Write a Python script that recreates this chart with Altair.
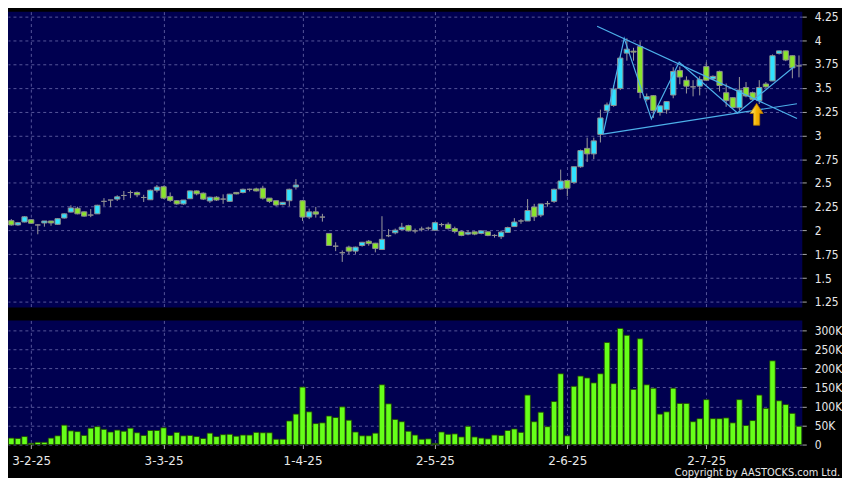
import altair as alt
import pandas as pd

# ---------------- data ----------------
OPEN = [2.103, 2.058, 2.089, 2.113, 2.058, 2.079, 2.100, 2.065, 2.131, 2.193,
        2.234, 2.196, 2.162, 2.175, 2.306, 2.320, 2.330, 2.368, 2.399, 2.400,
        2.347, 2.323, 2.423, 2.460, 2.358, 2.313, 2.279, 2.334, 2.416, 2.392,
        2.310, 2.350, 2.330, 2.306, 2.400, 2.399, 2.433, 2.437, 2.444, 2.340,
        2.313, 2.272, 2.313, 2.457, 2.313, 2.141, 2.196, 2.141, 1.969, 1.835,
        1.766, 1.825, 1.783, 1.842, 1.887, 1.866, 1.800, 1.945, 1.976, 2.010,
        2.051, 1.996, 2.014, 2.024, 2.003, 2.062, 2.065, 2.020, 1.990, 1.962,
        1.986, 1.969, 1.986, 1.948, 1.935, 1.980, 2.041, 2.100, 2.100, 2.247,
        2.162, 2.282, 2.306, 2.437, 2.526, 2.506, 2.670, 2.863, 2.805, 3.010,
        3.259, 3.314, 3.493, 3.864, 3.885, 3.933, 3.379, 3.417, 3.241, 3.269,
        3.424, 3.682, 3.579, 3.510, 3.517, 3.723, 3.593, 3.672, 3.448, 3.396,
        3.290, 3.503, 3.448, 3.365, 3.540, 3.572, 3.861, 3.888, 3.837, 3.730]
HIGH = [2.120, 2.090, 2.150, 2.120, 2.065, 2.100, 2.100, 2.130, 2.180, 2.265,
        2.250, 2.200, 2.225, 2.270, 2.340, 2.320, 2.370, 2.415, 2.420, 2.410,
        2.375, 2.430, 2.478, 2.470, 2.400, 2.320, 2.320, 2.420, 2.420, 2.400,
        2.355, 2.360, 2.380, 2.385, 2.405, 2.440, 2.440, 2.450, 2.470, 2.340,
        2.315, 2.300, 2.440, 2.540, 2.320, 2.230, 2.248, 2.175, 1.970, 1.876,
        1.790, 1.840, 1.830, 1.880, 1.900, 1.870, 2.150, 2.015, 2.020, 2.080,
        2.060, 2.020, 2.040, 2.040, 2.090, 2.080, 2.085, 2.040, 2.000, 2.000,
        1.990, 2.000, 1.990, 1.960, 2.000, 2.040, 2.130, 2.120, 2.330, 2.280,
        2.280, 2.310, 2.440, 2.640, 2.530, 2.670, 2.850, 2.976, 2.976, 3.270,
        3.345, 3.527, 3.836, 4.020, 3.920, 3.985, 3.440, 3.424, 3.310, 3.360,
        3.716, 3.723, 3.620, 3.580, 3.620, 3.768, 3.630, 3.680, 3.545, 3.400,
        3.613, 3.560, 3.460, 3.580, 3.560, 3.850, 3.890, 3.890, 3.840, 3.840]
LOW = [2.050, 2.050, 2.085, 2.070, 1.960, 2.040, 2.050, 2.060, 2.125, 2.190,
       2.170, 2.145, 2.140, 2.175, 2.255, 2.245, 2.310, 2.320, 2.340, 2.350,
       2.300, 2.320, 2.400, 2.330, 2.300, 2.270, 2.270, 2.334, 2.370, 2.320,
       2.290, 2.310, 2.280, 2.300, 2.380, 2.390, 2.410, 2.410, 2.325, 2.290,
       2.255, 2.265, 2.255, 2.430, 2.100, 2.120, 2.135, 2.093, 1.840, 1.783,
       1.670, 1.750, 1.755, 1.830, 1.840, 1.770, 1.800, 1.930, 1.960, 2.000,
       1.990, 1.970, 1.990, 2.000, 1.995, 2.040, 2.010, 1.970, 1.940, 1.950,
       1.950, 1.960, 1.940, 1.925, 1.910, 1.975, 2.040, 2.070, 2.100, 2.100,
       2.140, 2.250, 2.290, 2.430, 2.360, 2.490, 2.660, 2.720, 2.750, 2.925,
       3.235, 3.300, 3.476, 3.785, 3.785, 3.390, 3.355, 3.183, 3.207, 3.228,
       3.390, 3.537, 3.440, 3.410, 3.420, 3.570, 3.580, 3.460, 3.300, 3.280,
       3.260, 3.400, 3.360, 3.330, 3.500, 3.570, 3.850, 3.780, 3.600, 3.610]
CLOSE = [2.058, 2.082, 2.144, 2.076, 2.058, 2.100, 2.079, 2.124, 2.175, 2.237,
         2.175, 2.151, 2.162, 2.265, 2.306, 2.320, 2.354, 2.368, 2.399, 2.375,
         2.347, 2.423, 2.457, 2.340, 2.316, 2.279, 2.320, 2.416, 2.385, 2.330,
         2.350, 2.320, 2.330, 2.382, 2.385, 2.433, 2.433, 2.416, 2.340, 2.306,
         2.268, 2.296, 2.433, 2.478, 2.141, 2.196, 2.172, 2.141, 1.842, 1.835,
         1.766, 1.783, 1.825, 1.876, 1.862, 1.810, 1.907, 1.945, 2.003, 2.035,
         1.996, 1.996, 2.014, 2.024, 2.082, 2.062, 2.020, 1.990, 1.948, 1.980,
         1.962, 1.996, 1.948, 1.948, 1.983, 2.031, 2.089, 2.100, 2.210, 2.144,
         2.279, 2.282, 2.433, 2.520, 2.444, 2.670, 2.840, 2.805, 2.942, 3.183,
         3.320, 3.486, 3.812, 3.905, 3.875, 3.451, 3.407, 3.262, 3.310, 3.355,
         3.671, 3.613, 3.517, 3.510, 3.586, 3.579, 3.620, 3.524, 3.365, 3.293,
         3.476, 3.414, 3.379, 3.503, 3.510, 3.837, 3.888, 3.792, 3.710, 3.730]
VOLUME_K = [17, 16, 21, 3.5, 6, 6, 17, 23, 51, 36,
            34, 24, 43, 47, 40, 33, 38, 35, 43, 31,
            24, 37, 37, 44, 24, 32, 23, 24, 21, 16,
            30, 21, 26, 27, 22, 25, 25, 32, 31, 31,
            14, 14, 62, 80, 151, 86, 55, 57, 75, 71,
            99, 64, 33, 23, 23, 30, 157, 107, 66, 60,
            35, 25, 14, 15, 3, 33, 27, 28, 20, 48,
            20, 17, 15, 25, 24, 37, 41, 32, 130, 60,
            85, 47, 113, 186, 23, 153, 180, 175, 162, 186,
            268, 160, 305, 287, 145, 278, 157, 148, 80, 86,
            148, 108, 108, 60, 68, 118, 68, 68, 70, 57,
            118, 50, 63, 130, 95, 220, 115, 105, 82, 48]

MONTH_TICKS = [3, 23, 44, 64, 84, 105]
MONTH_LABELS = ["3-2-25", "3-3-25", "1-4-25", "2-5-25", "2-6-25", "2-7-25"]
PRICE_TICKS = [1.25, 1.5, 1.75, 2.0, 2.25, 2.5, 2.75, 3.0, 3.25, 3.5, 3.75, 4.0, 4.25]
VOL_TICKS = [0, 50000, 100000, 150000, 200000, 250000, 300000]

# trend lines drawn on the reference (bar index, price)
RES_K = [88.5, 118.7]
RES_P = [4.147, 3.177]
SUP_K = [89.4, 118.7]
SUP_P = [3.012, 3.332]
ZZ_K = [89.4, 92.6, 96.7, 100.9, 109.7, 118.3]
ZZ_P = [3.012, 4.019, 3.173, 3.768, 3.235, 3.724]
ARROW_K = [112.6]
ARROW_P = [3.221]

COPYRIGHT = "Copyright by AASTOCKS.com Ltd."

# ---------------- tables ----------------
n = len(OPEN)
rows = []
for i in range(n):
    o, c = OPEN[i], CLOSE[i]
    d = "up" if c - o > 0.0005 else ("down" if o - c > 0.0005 else "flat")
    rows.append({"k": i, "open": o, "high": HIGH[i], "low": LOW[i], "close": c,
                 "volume": VOLUME_K[i] * 1000, "dir": d})
df = pd.DataFrame(rows)

tl_rows = []
for name, ks, ps in [("res", RES_K, RES_P), ("sup", SUP_K, SUP_P), ("zz", ZZ_K, ZZ_P)]:
    for j, (kk, pp) in enumerate(zip(ks, ps)):
        tl_rows.append({"line": name, "seq": j, "k": kk, "p": pp})
tl = pd.DataFrame(tl_rows)
arrow_df = pd.DataFrame({"k": ARROW_K, "p": ARROW_P})

# ---------------- styling ----------------
FONT = "DejaVu Sans"
COND = "DejaVu Sans Condensed, DejaVu Sans"
TXT = "#e8e8e8"
x_scale = alt.Scale(domain=[-0.5, n - 0.5], nice=False, zero=False, padding=0)
price_scale = alt.Scale(domain=[1.19, 4.30], nice=False, zero=False)
vol_scale = alt.Scale(domain=[0, 326000], nice=False, zero=True)

x_top = alt.X("k:Q", scale=x_scale,
              axis=alt.Axis(values=MONTH_TICKS, labels=False, ticks=False, domain=False,
                            grid=True, title=None))
price_axis = alt.Axis(orient="right", values=PRICE_TICKS, format=".3~g", title=None,
                      grid=True, domain=False, tickSize=4, labelPadding=8,
                      labelFont=COND, labelFontSize=12, labelOverlap=False)

label_expr = ("[" + ",".join("'%s'" % s for s in MONTH_LABELS) + "][indexof(["
              + ",".join(str(v) for v in MONTH_TICKS) + "], datum.value)]")
x_bot = alt.X("k:Q", scale=x_scale,
              axis=alt.Axis(values=MONTH_TICKS, labelExpr=label_expr, grid=True,
                            domain=False, ticks=True, tickSize=4, labelPadding=7,
                            labelFont=FONT, labelFontSize=12, labelFlush=False,
                            labelOverlap=False, title=None))
vol_axis = alt.Axis(orient="right", values=VOL_TICKS, title=None, grid=True,
                    domain=False, tickSize=4, labelPadding=8, labelFont=COND,
                    labelFontSize=12, labelOverlap=False,
                    labelExpr="datum.value == 0 ? '0' : format(datum.value / 1000, 'd') + 'K'")

base = alt.Chart(df)

wicks = base.mark_rule(color="#9c9c9c", strokeWidth=1).encode(
    x=x_top, y=alt.Y("low:Q", scale=price_scale, axis=price_axis), y2="high:Q")

bodies = base.mark_bar(size=5.3, stroke="#8e8e8e", strokeWidth=1).encode(
    x=x_top,
    y=alt.Y("open:Q", scale=price_scale, axis=price_axis),
    y2="close:Q",
    color=alt.Color("dir:N",
                    scale=alt.Scale(domain=["up", "down", "flat"],
                                    range=["#30e2ff", "#8ae52c", "#a0a0a0"]),
                    legend=None))

trend = alt.Chart(tl).mark_line(color="#4db0ea", strokeWidth=1.2).encode(
    x=x_top, y=alt.Y("p:Q", scale=price_scale, axis=price_axis),
    detail="line:N", order="seq:Q")

ARROW_PATH = "M0,-1L0.6,-0.08L0.28,-0.08L0.28,1L-0.28,1L-0.28,-0.08L-0.6,-0.08Z"
grad = alt.LinearGradient(gradient="linear",
                          stops=[alt.GradientStop(color="#fff38a", offset=0),
                                 alt.GradientStop(color="#f5b400", offset=0.5),
                                 alt.GradientStop(color="#e09000", offset=1)],
                          x1=0, x2=1, y1=0, y2=0)
arrow = alt.Chart(arrow_df).mark_point(shape=ARROW_PATH, size=484, filled=True, fill=grad,
                                       stroke="#b07800", strokeWidth=0.8, opacity=1).encode(
    x=x_top, y=alt.Y("p:Q", scale=price_scale, axis=price_axis))

price = alt.layer(wicks, bodies, trend, arrow).properties(width=800, height=298)

vol_bars = base.mark_bar(size=5.6, color="#66ff19", stroke="#1f4200", strokeWidth=0.8).encode(
    x=x_bot, y=alt.Y("volume:Q", scale=vol_scale, axis=vol_axis))

copyright_text = alt.Chart(pd.DataFrame({"t": [COPYRIGHT]})).mark_text(
    align="right", baseline="middle", font=COND,
    fontSize=11, color=TXT).encode(text="t:N", x=alt.value(838), y=alt.value(154))

volume = alt.layer(vol_bars, copyright_text).properties(width=800, height=125)

chart = alt.vconcat(price, volume, spacing=12, padding=0).configure(
    background="#000000"
).configure_view(
    fill="#000050", strokeWidth=0
).configure_axis(
    gridColor="#56569a", gridDash=[3, 3], gridWidth=1, gridOpacity=1,
    labelColor=TXT, labelFont=FONT, tickColor="#a8a8a8", tickWidth=1
)

chart.save("out.html", embed_options={"renderer": "svg", "actions": False})
